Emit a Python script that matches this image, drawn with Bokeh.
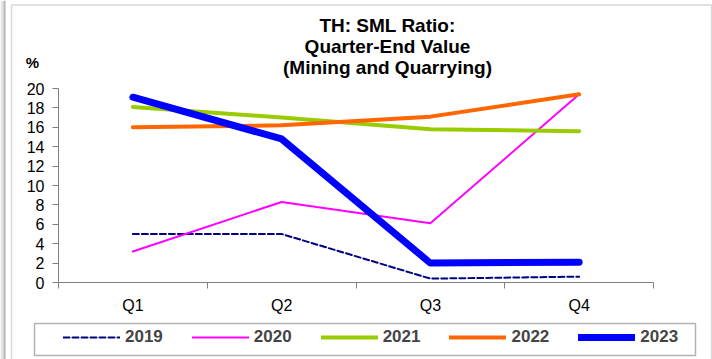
from bokeh.plotting import figure
from bokeh.models import (Range1d, FixedTicker, Legend, LegendItem, Label, BoxAnnotation, LinearAxis)
from bokeh.embed import file_html
from bokeh.resources import INLINE

quarters = ["Q1", "Q2", "Q3", "Q4"]
years = ["2019", "2020", "2021", "2022", "2023"]
v2019 = [5.0, 5.0, 0.4, 0.6]
v2020 = [3.2, 8.3, 6.1, 19.4]
v2021 = [18.1, 17.0, 15.8, 15.6]
v2022 = [16.0, 16.2, 17.1, 19.4]
v2023 = [19.1, 14.8, 2.0, 2.1]
y_ticks = list(range(0, 21, 2))
y_max = 20

series = [v2019, v2020, v2021, v2022, v2023]
colors = ["#000080", "#FF00FF", "#99CC00", "#FF6600", "#0000FF"]
widths = [2, 2, 4, 4, 7]
dashes = ["6 3", "solid", "solid", "solid", "solid"]

W, H = 712, 359
# plot area in pixels (from top-left)
px_left, px_right, px_top, px_bottom = 58, 653, 88, 282
n = len(quarters)
xppu = (px_right - px_left) / n
yppu = (px_bottom - px_top) / y_max
x_range = Range1d(-px_left / xppu, (W - px_left) / xppu)
y_range = Range1d(-(H - px_bottom) / yppu, y_max + px_top / yppu)

p = figure(width=W, height=H, output_backend="svg", toolbar_location=None,
           x_range=x_range, y_range=y_range, x_axis_type=None, y_axis_type=None,
           min_border_left=0, min_border_right=0, min_border_top=0, min_border_bottom=0)
p.title.visible = False
p.outline_line_color = None
p.background_fill_color = "white"
p.border_fill_color = "white"

xs = [i + 0.5 for i in range(n)]
items = []
for yr, vals, c, w, d in zip(years, series, colors, widths, dashes):
    r = p.line(xs, vals, line_color=c, line_width=w, line_dash=d, line_cap="round", line_join="round")
    items.append(LegendItem(label=yr, renderers=[r]))

axis_col = "#808080"
xa = LinearAxis(fixed_location=0, bounds=(0, n))
xa.ticker = FixedTicker(ticks=xs, minor_ticks=list(range(n + 1)))
xa.major_label_overrides = {x: q for x, q in zip(xs, quarters)}
xa.major_tick_out = 0
xa.major_tick_in = 0
xa.minor_tick_out = 6
xa.minor_tick_in = 0
xa.axis_line_color = axis_col
xa.minor_tick_line_color = axis_col
xa.major_label_text_font = "Liberation Sans"
xa.major_label_text_font_size = "16px"
xa.major_label_text_color = "black"
xa.major_label_standoff = 8
p.add_layout(xa, "below")

ya = LinearAxis(fixed_location=0, bounds=(0, y_max))
ya.ticker = FixedTicker(ticks=y_ticks, minor_ticks=[])
ya.major_tick_out = 6
ya.major_tick_in = 0
ya.minor_tick_out = 0
ya.minor_tick_in = 0
ya.axis_line_color = axis_col
ya.major_tick_line_color = axis_col
ya.major_label_text_font = "Liberation Sans"
ya.major_label_text_font_size = "16px"
ya.major_label_text_color = "black"
ya.major_label_standoff = 8
p.add_layout(ya, "left")

def sy(page_y):
    return H - page_y

# left window strip
p.add_layout(BoxAnnotation(left=0, right=3, top=sy(0), bottom=sy(H),
                           left_units="screen", right_units="screen", top_units="screen", bottom_units="screen",
                           fill_color="#e4e4e4", fill_alpha=1, line_alpha=0, level="underlay"))
p.add_layout(BoxAnnotation(left=3, right=5, top=sy(0), bottom=sy(H),
                           left_units="screen", right_units="screen", top_units="screen", bottom_units="screen",
                           fill_color="#b4b4b4", fill_alpha=1, line_alpha=0, level="underlay"))
p.add_layout(BoxAnnotation(left=11, right=711, top=sy(4.5), bottom=sy(370),
                           left_units="screen", right_units="screen", top_units="screen", bottom_units="screen",
                           fill_alpha=0, line_color="#7f7f7f", line_width=1.5, level="underlay"))
p.add_layout(BoxAnnotation(left=34, right=695, top=sy(323), bottom=sy(355),
                           left_units="screen", right_units="screen", top_units="screen", bottom_units="screen",
                           fill_alpha=0, line_color="black", line_width=1.5))

title_lines = ["TH: SML Ratio:", "Quarter-End Value", "(Mining and Quarrying)"]
for t, py in zip(title_lines, [24.5, 46, 66.5]):
    p.add_layout(Label(x=387, y=sy(py), x_units="screen", y_units="screen", text=t,
                       text_align="center", text_baseline="middle", text_font="Liberation Sans",
                       text_font_style="bold", text_font_size="19px", text_color="black"))
p.add_layout(Label(x=32, y=sy(62), x_units="screen", y_units="screen", text="%",
                   text_align="center", text_baseline="middle", text_font="Liberation Sans",
                   text_font_style="bold", text_font_size="15px", text_color="black"))

legend = Legend(items=items, orientation="horizontal", location=(63, sy(347)),
                padding=0, margin=0, spacing=29, glyph_width=57, glyph_height=16,
                label_height=16, label_standoff=5,
                label_text_font="Liberation Sans", label_text_font_style="bold",
                label_text_font_size="17px", border_line_alpha=0, background_fill_alpha=0)
p.add_layout(legend, "center")

open("out.html", "w").write(file_html(p, INLINE))
